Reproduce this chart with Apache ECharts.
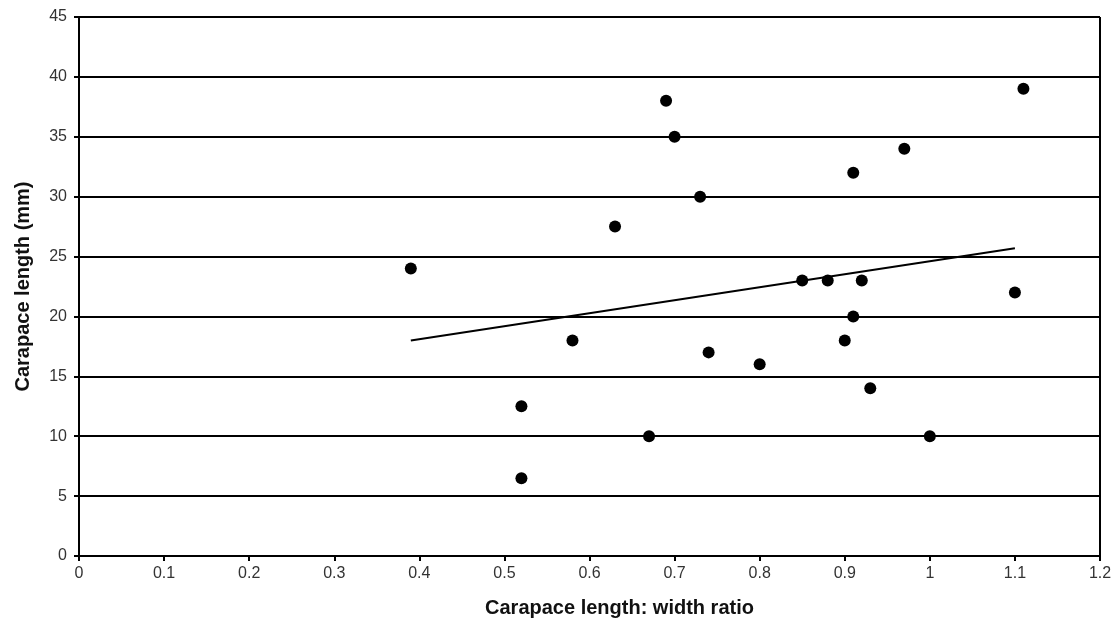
<!DOCTYPE html>
<html>
<head>
<meta charset="utf-8">
<script src="https://cdn.jsdelivr.net/npm/echarts@6/dist/echarts.min.js"></script>
<style>
  html, body { margin: 0; padding: 0; background: #fff; }
  #main { width: 1120px; height: 623px; }
</style>
</head>
<body>
<div id="main"></div>
<script>
// length:width ratio vs carapace length (mm)
const ratio = [0.39, 0.52, 0.52, 0.58, 0.63, 0.67, 0.69, 0.70, 0.73, 0.74, 0.80,
  0.85, 0.88, 0.90, 0.91, 0.91, 0.92, 0.93, 0.97, 1.00, 1.10, 1.11];
const length = [24, 12.5, 6.5, 18, 27.5, 10, 38, 35, 30, 17, 16,
  23, 23, 18, 32, 20, 23, 14, 34, 10, 22, 39];
// linear trend line end points
const trendX = [0.39, 1.10];
const trendY = [18.0, 25.7];

const points = ratio.map((r, i) => [r, length[i]]);
const trend = trendX.map((x, i) => [x, trendY[i]]);

const font = 'Liberation Sans, Arial, sans-serif';
const chart = echarts.init(document.getElementById('main'));
chart.setOption({
  animation: false,
  grid: { left: 79, right: 20, top: 17, bottom: 67 },
  xAxis: {
    type: 'value',
    min: 0, max: 1.2, interval: 0.1,
    name: 'Carapace length: width ratio',
    nameLocation: 'middle',
    nameGap: 42,
    nameTextStyle: {
      fontFamily: font, fontSize: 20, fontWeight: 'bold', color: '#111',
      padding: [0, 0, 0, 60]
    },
    axisLine: { show: true, lineStyle: { color: '#000', width: 2 } },
    axisTick: { show: true, length: 5, lineStyle: { color: '#000', width: 2 } },
    axisLabel: { fontFamily: font, fontSize: 16, color: '#333', margin: 10 },
    splitLine: { show: false }
  },
  yAxis: {
    type: 'value',
    min: 0, max: 45, interval: 5,
    name: 'Carapace length (mm)',
    nameLocation: 'middle',
    nameGap: 46,
    nameTextStyle: { fontFamily: font, fontSize: 20, fontWeight: 'bold', color: '#111' },
    axisLine: { show: true, lineStyle: { color: '#000', width: 2 } },
    axisTick: { show: true, length: 5, lineStyle: { color: '#000', width: 2 } },
    axisLabel: { fontFamily: font, fontSize: 16, color: '#333', margin: 12 },
    splitLine: { show: true, lineStyle: { color: '#000', width: 2 } }
  },
  series: [
    {
      type: 'scatter',
      data: points,
      symbol: 'circle',
      symbolSize: 12,
      itemStyle: { color: '#000', opacity: 1 }
    },
    {
      type: 'line',
      data: trend,
      symbol: 'none',
      lineStyle: { color: '#000', width: 2 }
    },
    {
      // right border of the plot
      type: 'line',
      data: [[1.2, 0], [1.2, 45]],
      symbol: 'none',
      silent: true,
      lineStyle: { color: '#000', width: 2 }
    }
  ]
});
</script>
</body>
</html>
